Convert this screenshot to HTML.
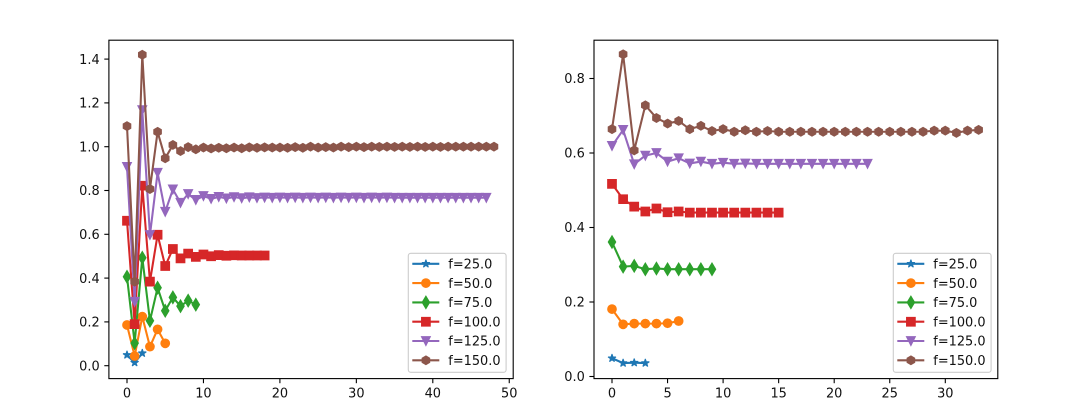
<!DOCTYPE html>
<html>
<head>
<meta charset="utf-8">
<title>Convergence charts</title>
<style>
html,body{margin:0;padding:0;background:#fff;width:1076px;height:420px;overflow:hidden}
svg{display:block;filter:blur(0.35px)}
text{font-family:"DejaVu Sans","Liberation Sans",sans-serif;font-size:12.9px;fill:#111}
</style>
</head>
<body>
<svg id="chart" xmlns="http://www.w3.org/2000/svg" width="1076" height="420" viewBox="0 0 1076 420"></svg>
<script>
const seriesLabels = ["f=25.0","f=50.0","f=75.0","f=100.0","f=125.0","f=150.0"];
const seriesColors = ["#1f77b4","#ff7f0e","#2ca02c","#d62728","#9467bd","#8c564b"];
const seriesMarkers = ["star","circle","diamond","square","triangle","hexagon"];

const leftXTicks = [0,10,20,30,40,50];
const leftYTicks = ["0.0","0.2","0.4","0.6","0.8","1.0","1.2","1.4"];
const rightXTicks = [0,5,10,15,20,25,30];
const rightYTicks = ["0.0","0.2","0.4","0.6","0.8"];

const left25 = [0.049,0.014,0.057];
const left50 = [0.186,0.044,0.224,0.087,0.166,0.102];
const left75 = [0.406,0.103,0.493,0.205,0.356,0.251,0.312,0.272,0.297,0.279];
const left100 = [0.662,0.19,0.822,0.384,0.598,0.455,0.533,0.49,0.512,0.497,0.508,0.5,0.505,0.502,0.504,0.503,0.503,0.503,0.503];
const left125 = [0.908,0.292,1.167,0.597,0.881,0.703,0.805,0.744,0.784,0.757,0.775,0.762,0.771,0.764,0.77,0.765,0.769,0.766,0.768,0.767,0.768,0.767,0.768,0.767,0.768,0.767,0.768,0.767,0.768,0.767,0.768,0.767,0.768,0.767,0.768,0.767,0.767,0.767,0.767,0.767,0.767,0.767,0.767,0.767,0.767,0.767,0.767,0.767];
const left150 = [1.094,0.384,1.42,0.807,1.068,0.947,1.008,0.98,0.998,0.988,0.996,0.992,0.995,0.993,0.996,0.993,0.997,0.995,0.997,0.996,0.996,0.995,0.998,0.995,1.0,0.996,0.998,0.996,1.0,0.998,1.0,0.998,1.0,0.999,1.0,0.999,1.0,0.999,1.0,0.999,1.0,0.999,1.0,1.0,1.0,1.0,1.0,1.0,1.0];
const leftData = [left25,left50,left75,left100,left125,left150];

const right25 = [0.049,0.036,0.037,0.036];
const right50 = [0.181,0.14,0.142,0.142,0.142,0.143,0.149];
const right75 = [0.361,0.295,0.297,0.288,0.29,0.288,0.288,0.288,0.288,0.288];
const right100 = [0.517,0.476,0.456,0.443,0.451,0.441,0.443,0.44,0.44,0.44,0.44,0.44,0.44,0.44,0.44,0.44];
const right125 = [0.619,0.662,0.57,0.593,0.6,0.577,0.586,0.572,0.577,0.571,0.574,0.571,0.572,0.571,0.571,0.571,0.571,0.571,0.571,0.571,0.571,0.571,0.571,0.571];
const right150 = [0.664,0.865,0.607,0.728,0.694,0.679,0.686,0.664,0.673,0.659,0.664,0.657,0.661,0.657,0.659,0.657,0.657,0.657,0.657,0.657,0.657,0.657,0.657,0.657,0.657,0.657,0.657,0.657,0.657,0.66,0.66,0.654,0.66,0.662];
const rightData = [right25,right50,right75,right100,right125,right150];

const NS = "http://www.w3.org/2000/svg";
const root = document.getElementById("chart");

function make(tag, parent, attrs) {
  const node = document.createElementNS(NS, tag);
  for (const k in attrs) node.setAttribute(k, attrs[k]);
  parent.appendChild(node);
  return node;
}

function markerPoints(kind, cx, cy) {
  const r = 4.17, pts = [];
  if (kind === "star") {
    for (let i = 0; i < 10; i++) {
      const rad = i % 2 ? r * 0.382 : r;
      const a = -Math.PI / 2 + i * Math.PI / 5;
      pts.push([cx + rad * Math.cos(a), cy + rad * Math.sin(a)]);
    }
  } else if (kind === "hexagon") {
    for (let i = 0; i < 6; i++) {
      const a = -Math.PI / 2 + i * Math.PI / 3;
      pts.push([cx + r * Math.cos(a), cy + r * Math.sin(a)]);
    }
  } else if (kind === "diamond") {
    pts.push([cx, cy - 5.9], [cx + 3.54, cy], [cx, cy + 5.9], [cx - 3.54, cy]);
  } else if (kind === "square") {
    pts.push([cx - r, cy - r], [cx + r, cy - r], [cx + r, cy + r], [cx - r, cy + r]);
  } else if (kind === "triangle") {
    pts.push([cx - r, cy - r], [cx + r, cy - r], [cx, cy + r]);
  }
  return pts.map(p => p[0].toFixed(2) + "," + p[1].toFixed(2)).join(" ");
}

function drawMarker(parent, kind, cx, cy, color) {
  let m;
  if (kind === "circle") {
    m = make("circle", parent, {cx: cx, cy: cy, r: 4.17, fill: color, stroke: color, "stroke-width": 1.39});
  } else {
    m = make("polygon", parent, {points: markerPoints(kind, cx, cy), fill: color, stroke: color, "stroke-width": kind === "star" ? 1.0 : 1.39, "stroke-linejoin": kind === "star" ? "bevel" : "miter"});
  }
  
  
}

function drawPanel(prefix, box, xAxis, yAxis, xTicks, yTicks, data, legendX) {
  const group = make("g", root, {});
  
  

  const bg = make("rect", group, {x: box.l, y: box.t, width: box.r - box.l, height: box.b - box.t, fill: "#fff"});
  
  

  const sx = v => xAxis.zero + xAxis.scale * v;
  const sy = v => yAxis.zero - yAxis.scale * v;

  data.forEach((vals, i) => {
    const g = make("g", group, {});
    
    
    const line = make("polyline", g, {
      points: vals.map((v, j) => sx(j).toFixed(2) + "," + sy(v).toFixed(2)).join(" "),
      fill: "none", stroke: seriesColors[i], "stroke-width": 2.08, "stroke-linejoin": "round"
    });
    
    
    vals.forEach((v, j) => drawMarker(g, seriesMarkers[i], sx(j), sy(v), seriesColors[i]));
  });

  const frame = make("rect", group, {x: box.l, y: box.t, width: box.r - box.l, height: box.b - box.t, fill: "none", stroke: "#000", "stroke-width": 1.1});
  
  

  xTicks.forEach(t => {
    const x = sx(Number(t));
    const tick = make("line", group, {x1: x, x2: x, y1: box.b, y2: box.b + 4.6, stroke: "#000", "stroke-width": 1.1});
    
    
    const label = make("text", group, {x: x, y: box.b + 18.8, "text-anchor": "middle"});
    
    
    label.textContent = t;
  });

  yTicks.forEach(t => {
    const y = sy(Number(t));
    const tick = make("line", group, {x1: box.l - 4.6, x2: box.l, y1: y, y2: y, stroke: "#000", "stroke-width": 1.1});
    
    
    const label = make("text", group, {x: box.l - 9.2, y: y + 4.7, "text-anchor": "end"});
    
    
    label.textContent = t;
  });

  const legend = make("g", group, {});
  
  
  const legendBox = make("rect", legend, {x: legendX, y: 253.3, width: 97.8, height: 119, rx: 2.5, ry: 2.5, fill: "#fff", "fill-opacity": 0.8, stroke: "#ccc", "stroke-width": 1.1});
  
  

  seriesLabels.forEach((name, i) => {
    const y = 263.8 + i * 19.3;
    const entry = make("g", legend, {});
    
    
    const handle = make("line", entry, {x1: legendX + 4, x2: legendX + 31, y1: y, y2: y, stroke: seriesColors[i], "stroke-width": 2.08});
    
    
    drawMarker(entry, seriesMarkers[i], legendX + 17.6, y, seriesColors[i]);
    const txt = make("text", entry, {x: legendX + 40, y: y + 4.7});
    
    
    txt.textContent = name;
  });
}

drawPanel("left", {l: 108.9, r: 513.2, t: 40.2, b: 378.6},
  {zero: 127, scale: 7.645}, {zero: 365.7, scale: 219},
  leftXTicks, leftYTicks, leftData, 408.3);

drawPanel("right", {l: 594, r: 997.8, t: 40.2, b: 378.6},
  {zero: 612, scale: 11.11}, {zero: 376.5, scale: 372.5},
  rightXTicks, rightYTicks, rightData, 893.3);
</script>
</body>
</html>
